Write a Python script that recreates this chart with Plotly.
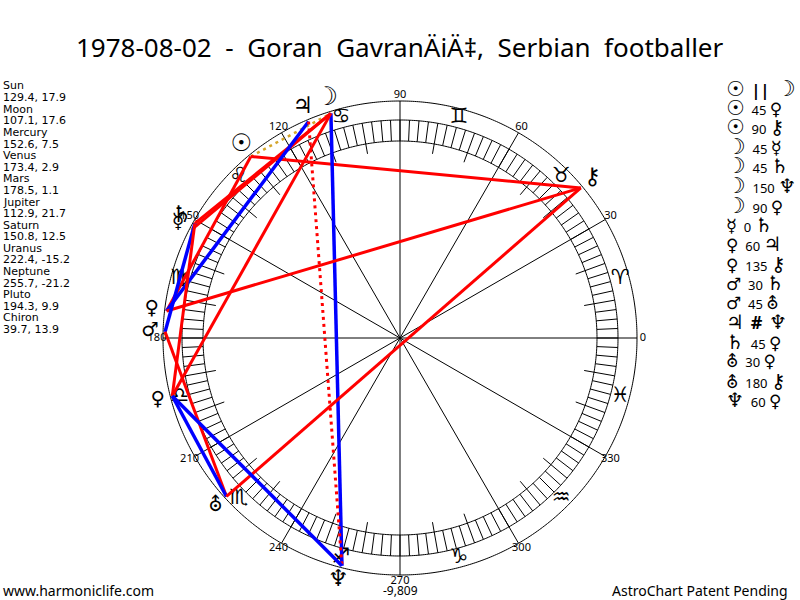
import plotly.graph_objects as go

# planet data, read from the text column on the left
planets = ['Sun', 'Moon', 'Mercury', 'Venus', 'Mars', 'Jupiter', 'Saturn', 'Uranus', 'Neptune', 'Pluto', 'Chiron']
longitudes = [129.4, 107.1, 152.6, 173.4, 178.5, 112.9, 150.8, 222.4, 255.7, 194.3, 39.7]
declinations = [17.9, 17.6, 7.5, 2.9, 1.1, 21.7, 12.5, -15.2, -21.2, 9.9, 13.9]
planet_glyphs = ['☉', '☽', '☿', '♀', '♂', '♃', '♄', '⛢', '♆', '♀', '⚷']

zodiac_glyphs = ['♈', '♉', '♊', '♋', '♌', '♍', '♎', '♏', '♐', '♑', '♒', '♓']
zodiac_angles = [15, 45, 75, 105, 135, 165, 195, 225, 255, 285, 315, 345]

spoke_angles = [0, 30, 60, 90, 120, 150, 180, 210, 240, 270, 300, 330]
spoke_labels = ['0', '30', '60', '90', '120', '150', '180', '210', '240', '270', '300', '330']

# aspects, same order as the list on the right
aspect_from = ['Sun', 'Sun', 'Sun', 'Moon', 'Moon', 'Moon', 'Moon', 'Mercury', 'Venus', 'Venus',
               'Mars', 'Mars', 'Jupiter', 'Saturn', 'Uranus', 'Uranus', 'Neptune']
aspect_kind = ['par', '45', '90', '45', '45', '150', '90', '0', '60', '135',
               '30', '45', 'contra', '45', '30', '180', '60']
aspect_to = ['Moon', 'Venus', 'Chiron', 'Mercury', 'Saturn', 'Neptune', 'Pluto', 'Saturn', 'Jupiter', 'Chiron',
             'Saturn', 'Uranus', 'Neptune', 'Pluto', 'Pluto', 'Chiron', 'Pluto']

RED = '#ff0000'
BLUE = '#0000ff'
GOLD = '#d4a52a'
kind_style = {
    '0': dict(color=GOLD, width=2.5, dash='2px,4px'),
    'par': dict(color=GOLD, width=2.5, dash='3px,4px'),
    'contra': dict(color=RED, width=3, dash='3px,4px'),
    '30': dict(color=BLUE, width=3.5),
    '60': dict(color=BLUE, width=3.5),
    '150': dict(color=BLUE, width=3.5),
    '45': dict(color=RED, width=3),
    '90': dict(color=RED, width=3),
    '135': dict(color=RED, width=3),
    '180': dict(color=RED, width=3),
}

# DejaVu draws these at quite different scales, so even them out a bit
glyph_scale = {'☉': 1.05, '☽': 1.1, '☿': 0.9, '♀': 0.85, '♂': 0.85, '♃': 1.0, '♄': 1.0, '⛢': 0.85, '♆': 1.0, '⚷': 1.0}

W, H = 800, 600
R_AXIS = 262  # room for the glyphs outside the wheel
R_OUT = 237
R_BAND_OUT = 218
R_BAND_IN = 197
R_LONG = 187
R_POINT = 235
R_SIGN = 228
R_LABEL = 243
R_GLYPH = 250

long_pos = dict(zip(planets, longitudes))
glyph_of = dict(zip(planets, planet_glyphs))

fig = go.Figure()

# spokes through the centre
spoke_r, spoke_t = [], []
for a in spoke_angles:
    spoke_r += [0, R_OUT, None]
    spoke_t += [a, a, None]
fig.add_trace(go.Scatterpolar(r=spoke_r, theta=spoke_t, mode='lines',
                              line=dict(color='black', width=1), hoverinfo='skip'))

# wheel and band circles
circle = [i * 0.5 for i in range(721)]
for r in (R_OUT, R_BAND_OUT, R_BAND_IN):
    fig.add_trace(go.Scatterpolar(r=[r] * len(circle), theta=circle, mode='lines',
                                  line=dict(color='black', width=1), hoverinfo='skip'))

# degree ticks every 2.5, longer ones every 10
tick_r, tick_t = [], []
for i in range(144):
    a = i * 2.5
    inner = R_LONG if (i % 4 == 0 and i % 12 != 0) else R_BAND_IN
    tick_r += [inner, R_BAND_OUT, None]
    tick_t += [a, a, None]
fig.add_trace(go.Scatterpolar(r=tick_r, theta=tick_t, mode='lines',
                              line=dict(color='black', width=1), hoverinfo='skip'))

# degree labels
fig.add_trace(go.Scatterpolar(r=[R_LABEL] * 12, theta=spoke_angles, mode='text', text=spoke_labels,
                              textfont=dict(size=11, color='black', family='Noto Sans'),
                              cliponaxis=False, hoverinfo='skip'))

# signs
fig.add_trace(go.Scatterpolar(r=[R_SIGN] * 12, theta=zodiac_angles, mode='text', text=zodiac_glyphs,
                              textfont=dict(size=21, color='black', family='DejaVu Sans'),
                              cliponaxis=False, hoverinfo='skip'))

# aspect lines
for a, k, b in zip(aspect_from, aspect_kind, aspect_to):
    fig.add_trace(go.Scatterpolar(r=[R_POINT, R_POINT], theta=[long_pos[a], long_pos[b]], mode='lines',
                                  line=kind_style[k], hoverinfo='skip', cliponaxis=False))

# planet glyphs outside the wheel
fig.add_trace(go.Scatterpolar(r=[R_GLYPH] * len(planets), theta=longitudes, mode='text', text=planet_glyphs,
                              textfont=dict(size=[23 * glyph_scale[g] for g in planet_glyphs],
                                            color='black', family='DejaVu Sans'),
                              cliponaxis=False, hoverinfo='skip'))

cx, cy = 400, 338
fig.update_layout(
    width=W, height=H,
    margin=dict(l=0, r=0, t=0, b=0),
    paper_bgcolor='white',
    showlegend=False,
    polar=dict(
        domain=dict(x=[(cx - R_AXIS) / W, (cx + R_AXIS) / W],
                    y=[(H - cy - R_AXIS) / H, (H - cy + R_AXIS) / H]),
        bgcolor='rgba(0,0,0,0)',
        radialaxis=dict(visible=False, range=[0, R_AXIS]),
        angularaxis=dict(direction='counterclockwise', rotation=0, showgrid=False,
                         showline=False, ticks='', showticklabels=False),
    ),
)


def note(x, y, text, size=11, family='DejaVu Sans', anchor='left'):
    fig.add_annotation(x=x / W, y=1 - y / H, xref='paper', yref='paper', text=text, showarrow=False,
                       xanchor=anchor, yanchor='middle', borderpad=0,
                       font=dict(size=size, color='black', family=family))


def glyph_span(g):
    return f'<span style="font-size:{20 * glyph_scale[g]:.0f}px;font-family:DejaVu Sans">{g}</span>'


note(400, 47, '1978-08-02&nbsp; -&nbsp; Goran&nbsp; GavranÄiÄ‡,&nbsp; Serbian&nbsp; footballer',
     size=26, family='Noto Sans', anchor='center')

# left column
y = 86.0
for name, lon, dec in zip(planets, longitudes, declinations):
    note(2, y, name)
    note(2, y + 11.6, f'{lon}, {dec}')
    y += 23.2

# right column
y = 88.0
for a, k, b in zip(aspect_from, aspect_kind, aspect_to):
    sym = {'par': '<span style="font-size:16px"><b>||</b></span>&nbsp;',
           'contra': '<span style="font-size:18px"><b>#</b></span>&nbsp;'}.get(k, k)
    row = glyph_span(glyph_of[a]) + f'&nbsp;&nbsp;{sym}&nbsp;' + glyph_span(glyph_of[b])
    note(725, y, row, size=13, family='Noto Sans')
    y += 19.5

note(2, 590, 'www.harmoniclife.com', size=14, family='Noto Sans')
note(400, 590, '-9,809', size=12, family='Noto Sans', anchor='center')
note(789, 590, 'AstroChart Patent Pending', size=14, family='Noto Sans', anchor='right')

# the page's default body margin would push the figure 8px off the reference
fig.write_html("out.html", config=dict(displayModeBar=False), post_script="document.body.style.margin='0';")
